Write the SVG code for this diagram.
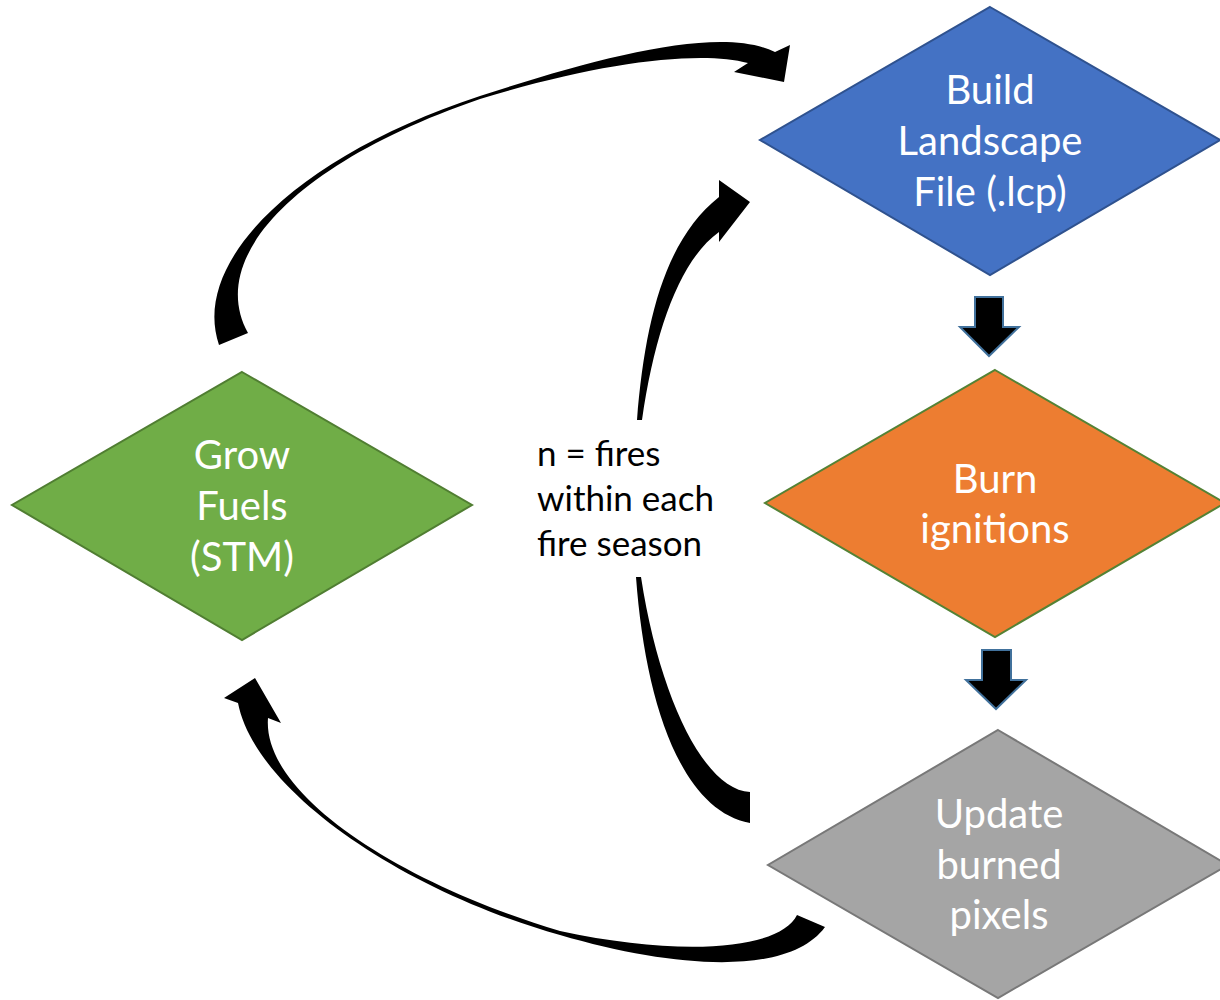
<svg xmlns="http://www.w3.org/2000/svg" width="1220" height="1000" viewBox="0 0 1220 1000">
<style>
.node-text{font-family:Lato,"Open Sans","Liberation Sans",sans-serif;font-size:40px;fill:#ffffff;text-anchor:middle}
.note{font-family:Lato,"Open Sans","Liberation Sans",sans-serif;font-size:35px;fill:#000000}
.curve{fill:#000000;stroke:none}
.block{fill:#000000;stroke:#41719C;stroke-width:2;stroke-linejoin:miter}
</style>
<rect width="1220" height="1000" fill="#ffffff"/>
<g id="connectors">
<path id="arrow-grow-to-build" class="curve" d="M219,345 C190,260 300,155 480,96 C600,57 720,25 775,52 L790,45 L784,82 L734,72 L748,63 C700,50 600,62 480,99 C302,160 205,255 248,333 Z"/>
<path id="arrow-loop-up" class="curve" d="M637,420 C645,320 665,240 719,197 L719,180 L750,202 L719,242 L719,232 C680,260 655,330 642,420 Z"/>
<path id="arrow-loop-down" class="curve" d="M636,577 C645,700 680,810 750,823 L750,792 C705,790 660,700 641,577 Z"/>
<path id="arrow-update-to-grow" class="curve" d="M238,703 C255,790 400,890 560,935 C680,970 790,975 825,927 L797,915 C780,950 680,957 560,931 C402,884 262,795 268,718 L281,723 L255,678 L224,698 Z"/>
<path id="block-build-to-burn" class="block" d="M975,297 L1003,297 L1003,327 L1019,327 L989,356 L960,327 L975,327 Z"/>
<path id="block-burn-to-update" class="block" d="M982,650 L1011,650 L1011,680 L1026,680 L996,709 L966,680 L982,680 Z"/>
</g>
<g id="node-build">
<polygon points="990,7 1220,140 990,275 760,140" fill="#4472C4" stroke="#2F528F" stroke-width="2"/>
<text class="node-text" x="990" y="104">Build</text>
<text class="node-text" x="990" y="155">Landscape</text>
<text class="node-text" x="990" y="206">File (.lcp)</text>
</g>
<g id="node-burn">
<polygon points="995,370 1225,503 995,637 765,503" fill="#ED7D31" stroke="#548235" stroke-width="2"/>
<text class="node-text" x="995" y="493">Burn</text>
<text class="node-text" x="995" y="543">ignitions</text>
</g>
<g id="node-update">
<polygon points="998,730 1228,865 998,998 768,865" fill="#A5A5A5" stroke="#787878" stroke-width="2"/>
<text class="node-text" x="999" y="828">Update</text>
<text class="node-text" x="999" y="879">burned</text>
<text class="node-text" x="999" y="929">pixels</text>
</g>
<g id="node-grow">
<polygon points="242,372 472,505 242,640 12,505" fill="#70AD47" stroke="#507E32" stroke-width="2"/>
<text class="node-text" x="242" y="469">Grow</text>
<text class="node-text" x="242" y="520">Fuels</text>
<text class="node-text" x="242" y="571">(STM)</text>
</g>
<g id="label-n">
<text class="note" x="537" y="466">n = fires</text>
<text class="note" x="537" y="511">within each</text>
<text class="note" x="537" y="556">fire season</text>
</g>
</svg>
